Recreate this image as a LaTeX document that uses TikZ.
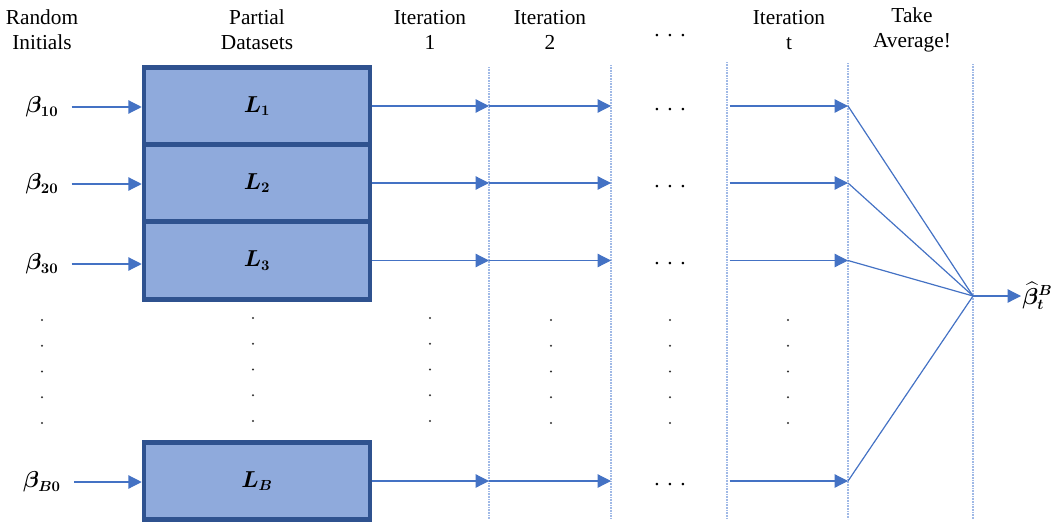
\documentclass[tikz,border=0pt]{standalone}
\usepackage{amsmath}
\usepackage{amssymb}
\usepackage{bm}
\usepackage{fontspec}
\setmainfont{Liberation Serif}
\usepackage{tikz}
\usetikzlibrary{shapes,arrows,arrows.meta}

\definecolor{boxfill}{RGB}{143,170,220}
\definecolor{boxline}{RGB}{47,82,143}
\definecolor{arrowblue}{RGB}{68,114,196}
\definecolor{gridblue}{RGB}{160,185,230}

\begin{document}
\begin{tikzpicture}[x=0.75pt,y=0.75pt,yscale=-1,xscale=1,
    every node/.style={font=\fontsize{16}{18.75}\selectfont},
    databox/.style={draw=boxline,fill=boxfill,line width=3.4pt,minimum width=169.5pt,minimum height=58.1pt,inner sep=0pt},
    flow/.style={draw=arrowblue,line width=0.9pt,-{Triangle[length=10pt,width=10pt]}},
    spoke/.style={draw=arrowblue,line width=0.9pt},
    grid/.style={draw=gridblue,line width=0.8pt,dash pattern={on 0.6pt off 0.6pt}},
    vdot/.style={fill=black!80}]
    \useasboundingbox (0,0) rectangle (1052,521);

    % column lines
    \coordinate (v1) at (489,67);
    \coordinate (v2) at (611,65);
    \coordinate (v3) at (727,62);
    \coordinate (v4) at (848,63);
    \coordinate (v5) at (973,64);
    \foreach \v in {v1,v2,v3,v4,v5}
        \draw [grid] (\v) -- (\v |- 0,519);

    % Text Node
    \draw (42,30) node [align=center,inner sep=0.75pt] (hRand) {Random\\Initials};
    % Text Node
    \draw (257,30) node [align=center,inner sep=0.75pt] (hPart) {Partial\\Datasets};
    % Text Node
    \draw (430,30) node [align=center,inner sep=0.75pt] (hIt1) {Iteration\\1};
    % Text Node
    \draw (550,30) node [align=center,inner sep=0.75pt] (hIt2) {Iteration\\2};
    % Text Node
    \draw (670,36) node [inner sep=0.75pt] (hDots) {.\hspace{5.8pt}.\hspace{5.8pt}.};
    % Text Node
    \draw (789,30) node [align=center,inner sep=0.75pt] (hItt) {Iteration\\t};
    % Text Node
    \draw (912,30) node [align=center,inner sep=0.75pt] (hAvg) {Take\\Average!};

    % partial datasets
    \node [databox] (L1) at (257,106) {$\boldsymbol{L_1}$};
    \node [databox] (L2) at (257,183) {$\boldsymbol{L_2}$};
    \node [databox] (L3) at (257,260.5) {$\boldsymbol{L_3}$};
    \node [databox] (LB) at (257,481) {$\boldsymbol{L_B}$};

    % random initials
    \node [inner sep=0.75pt] (b1) at (42,107) {$\boldsymbol{\beta_{10}}$};
    \node [inner sep=0.75pt] (b2) at (42,184) {$\boldsymbol{\beta_{20}}$};
    \node [inner sep=0.75pt] (b3) at (42,264) {$\boldsymbol{\beta_{30}}$};
    \node [inner sep=0.75pt] (bB) at (42,482) {$\boldsymbol{\beta_{B0}}$};

    % average point and result
    \coordinate (avg) at (973,296);
    \node [anchor=west,inner sep=0.75pt] (bhat) at (1021,296) {$\widehat{\boldsymbol{\beta}}_{\boldsymbol{t}}^{\boldsymbol{B}}$};

    \foreach \b/\L in {b1/L1,b2/L2,b3/L3,bB/LB}{
        \draw [flow] (\b.east) ++(12,0) -- (\b.east -| \L.west);
        \draw [flow] (\L.east) -- (\L.east -| v1);
        \draw [flow] (\L.east -| v1) -- (\L.east -| v2);
        \node [inner sep=0pt,yshift=-2.5pt] at (\L.east -| 670,0) {.\hspace{5.8pt}.\hspace{5.8pt}.};
        \draw [flow] ([xshift=2pt]\L.east -| v3) -- (\L.east -| v4);
        \draw [spoke] (\L.east -| v4) -- (avg);
    }
    \draw [flow] (avg) -- (avg -| bhat.west);

    % vertical dots
    \foreach \x/\y in {42/320,253/318,430/318,551/320,670/320,788/320}
        \foreach \k in {0,...,4}
            \fill [vdot] (\x,\y+25.75*\k) circle [radius=0.85pt];

\end{tikzpicture}
\end{document}
